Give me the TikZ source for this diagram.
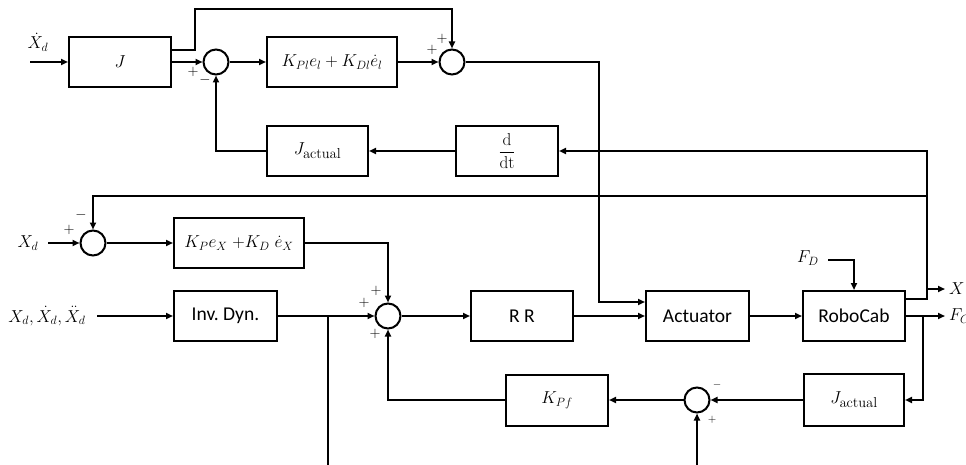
\documentclass[tikz,border=0pt]{standalone}
\usepackage{amsmath}
\usepackage[no-math]{fontspec}
\setmainfont{Carlito}[Scale=1.15]
\usetikzlibrary{arrows.meta, positioning, calc}
\newcommand{\jactual}{$J_{\mbox{\fontsize{14}{14}\selectfont$\mathrm{actual}$}}$}
\tikzset{
    blk_box/.style={
        rectangle, draw=black, line width=2pt,
        minimum width=102pt, minimum height=50pt, inner sep=2pt,
        align=center, font=\fontsize{17}{20}\selectfont
    },
    blk_wide/.style={
        blk_box, minimum width=130pt
    },
    sum_node/.style={
        circle, draw=black, line width=2pt, minimum size=25pt, inner sep=0pt
    },
    sig_arrow/.style={
        -{Triangle[length=7pt,width=6pt]}, line width=1.8pt
    },
    sig_line/.style={
        line width=1.8pt
    },
    sign_lbl/.style={
        inner sep=0pt, font=\fontsize{14}{14}\selectfont
    },
    sign_small/.style={
        inner sep=0pt, font=\fontsize{11}{11}\selectfont
    },
    in_lbl/.style={
        inner sep=1pt, font=\fontsize{17}{20}\selectfont
    }
}

\begin{document}
\begin{tikzpicture}[x=1pt, y=-1pt]

    \useasboundingbox (0,0) rectangle (966,465);

    % --- Upper loop: velocity ---
    \node[blk_box] (jac) at (120,62) {$J$};
    \node[sum_node] (sum_a) at (216,62) {};
    \node[blk_wide] (pd_inner) at (332,62) {$K_{Pl}e_l + K_{Dl}\dot{e}_l$};
    \node[sum_node] (sum_b) at (452,62) {};
    \node[blk_box, minimum width=101pt] (jact_top) at (317.5,151) {\jactual};
    \node[blk_box] (deriv) at (507,151) {$\dfrac{\mathrm{d}}{\mathrm{dt}}$};

    % --- Lower loop: position & force ---
    \node[sum_node] (sum_c) at (93,243) {};
    \node[blk_wide] (pd_outer) at (239,243) {$K_P e_X\;{+}K_D\;\dot{e}_X$};
    \node[blk_box, minimum width=103pt] (invdyn) at (225.5,316) {Inv.\ Dyn.};
    \node[sum_node] (sum_d) at (388,316) {};
    \node[blk_box] (rr) at (522,316) {R R};
    \node[blk_box, minimum width=103pt] (actuator) at (697.5,316) {Actuator};
    \node[blk_box] (robocab) at (854,316) {RoboCab};
    \node[blk_box, minimum width=100pt, minimum height=52pt] (jact_bot) at (854,400) {\jactual};
    \node[sum_node] (sum_e) at (697,400) {};
    \node[blk_box, minimum height=51pt] (kpf) at (557,400) {$K_{Pf}$};

    % --- Inputs, outputs & branch points ---
    \node[in_lbl] (lbl_xdot) at (38,42) {$\dot{X}_d$};
    \coordinate (in_xdot) at (30,62);
    \node[in_lbl] (lbl_xd) at (28,243) {$X_d$};
    \coordinate (in_xd) at (48,243);
    \node[in_lbl] (lbl_traj) at (47,316) {$X_d,\dot{X}_d,\ddot{X}_d$};
    \coordinate (in_traj) at (97,316);
    \node[in_lbl] (lbl_fd) at (808,258) {$F_D$};
    \coordinate (in_fd) at (828,260);
    \node[in_lbl, anchor=west] (lbl_x) at (948,289) {$X$};
    \coordinate (out_x) at (945,289);
    \node[in_lbl, anchor=west] (lbl_fc) at (948,316) {$F_C$};
    \coordinate (out_fc) at (945,316);
    \coordinate (br_robo) at (927,196);
    \coordinate (br_x) at (927,289);
    \coordinate (br_fc) at (923,316);
    \coordinate (br_inv) at (328,316);
    \coordinate (out_inv) at (328,465);
    \coordinate (in_sum_e) at (697,465);

    % --- Upper connections ---
    \draw[sig_arrow] (in_xdot) -- (jac);
    \draw[sig_arrow] (jac) -- (sum_a);
    \draw[sig_arrow] ([yshift=12pt]jac.east) -| (195,9) -| (sum_b);
    \draw[sig_arrow] (sum_a) -- (pd_inner);
    \draw[sig_arrow] (pd_inner) -- (sum_b);
    \draw[sig_arrow] (sum_b) -| (599,302) -- ([yshift=14pt]actuator.west);
    \draw[sig_arrow] (deriv) -- (jact_top);
    \draw[sig_arrow] (jact_top) -| (sum_a);

    % --- Lower connections ---
    \draw[sig_arrow] (in_xd) -- (sum_c);
    \draw[sig_arrow] (sum_c) -- (pd_outer);
    \draw[sig_arrow] (pd_outer) -| (sum_d);
    \draw[sig_arrow] (in_traj) -- (invdyn);
    \draw[sig_arrow] (invdyn) -- (sum_d);
    \draw[sig_line] (br_inv) -- (out_inv);
    \draw[sig_arrow] (sum_d) -- (rr);
    \draw[sig_arrow] (rr) -- (actuator);
    \draw[sig_arrow] (actuator) -- (robocab);
    \draw[sig_arrow] (in_fd) -| (robocab);
    \draw[sig_arrow] ([yshift=17pt]robocab.east) -| (br_x) |- (deriv);
    \draw[sig_arrow] (br_robo) -| (sum_c);
    \draw[sig_arrow] (br_x) -- (out_x);
    \draw[sig_arrow] (robocab) -- (out_fc);
    \draw[sig_arrow] (br_fc) |- (jact_bot);
    \draw[sig_arrow] (jact_bot) -- (sum_e);
    \draw[sig_arrow] (sum_e) -- (kpf);
    \draw[sig_arrow] (in_sum_e) -- (sum_e);
    \draw[sig_arrow] (kpf) -| (sum_d);

    % --- Signs ---
    \node[sign_lbl] (sg_a1) at (193,72) {$+$};
    \node[sign_lbl] (sg_a2) at (205,80) {$-$};
    \node[sign_lbl] (sg_b1) at (432,50) {$+$};
    \node[sign_lbl] (sg_b2) at (442,39) {$+$};
    \node[sign_lbl] (sg_c1) at (69,230) {$+$};
    \node[sign_lbl] (sg_c2) at (81,215) {$-$};
    \node[sign_lbl] (sg_d1) at (364,303) {$+$};
    \node[sign_lbl] (sg_d2) at (376,291) {$+$};
    \node[sign_lbl] (sg_d3) at (375,334) {$+$};
    \node[sign_small] (sg_e1) at (717,385) {$-$};
    \node[sign_small] (sg_e2) at (712,420) {$+$};

\end{tikzpicture}
\end{document}
